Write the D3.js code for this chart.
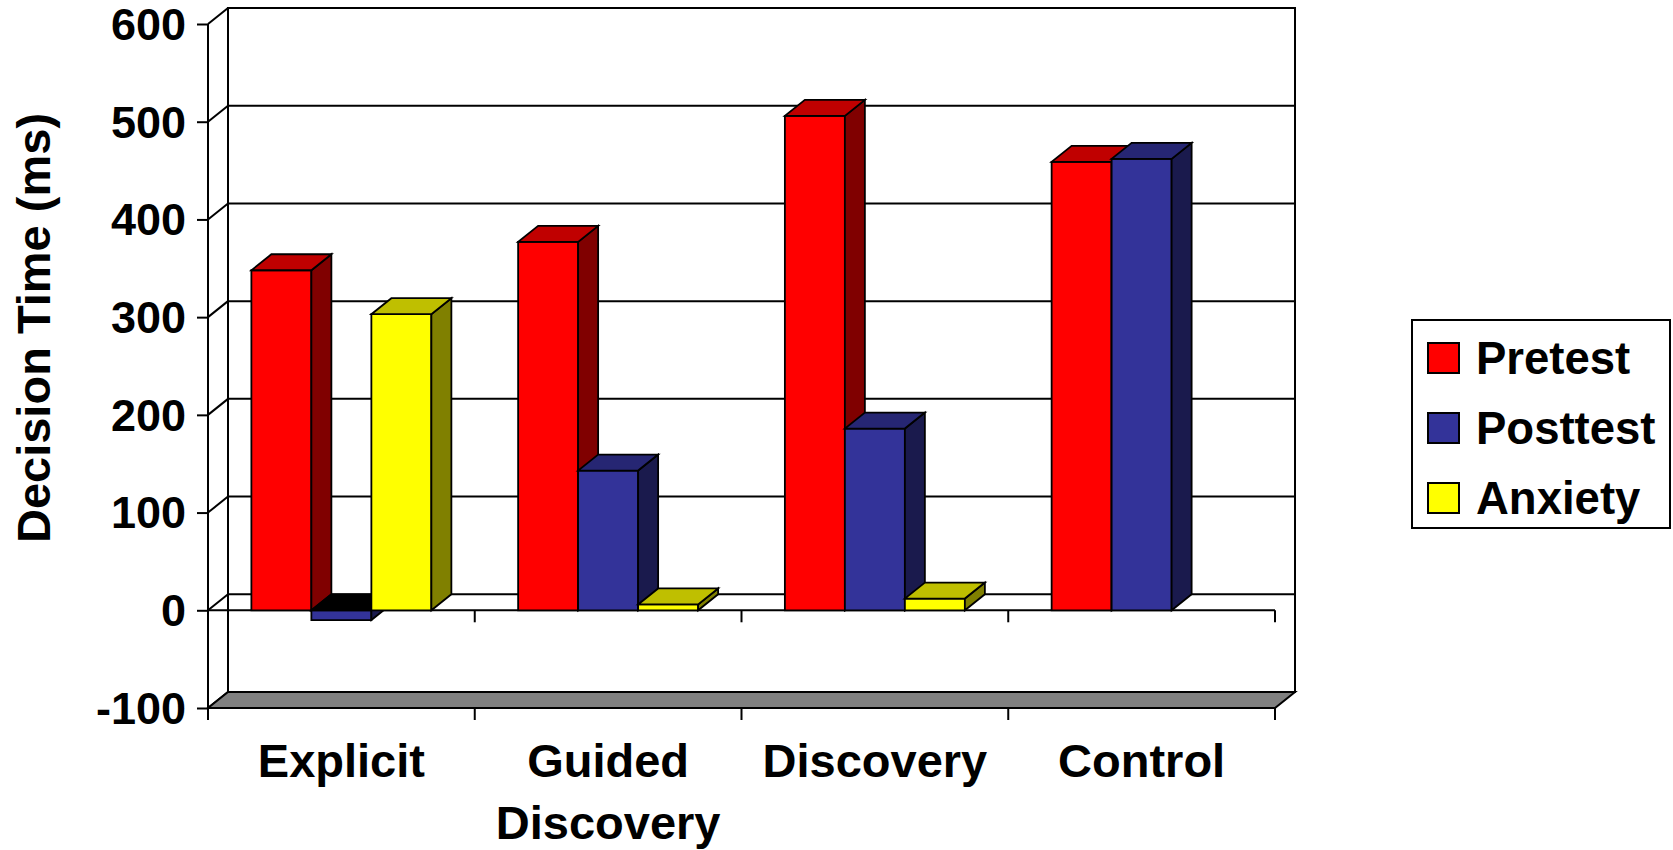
<!DOCTYPE html>
<html>
<head>
<meta charset="utf-8">
<script src="https://cdn.jsdelivr.net/npm/d3@7"></script>
<style>
  html, body { margin: 0; padding: 0; background: #ffffff; }
  svg { display: block; }
  text { font-family: "Liberation Sans", Arial, sans-serif; font-weight: bold; fill: #000; }
</style>
</head>
<body>
<script>
// Decision time by instruction condition
const categories = ["Explicit", "Guided Discovery", "Discovery", "Control"];
const seriesNames = ["Pretest", "Posttest", "Anxiety"];
const pretest  = [348, 377, 506, 459];
const posttest = [-10, 143, 186, 462];
const anxiety  = [303, 6, 12, null];
const yTickValues = [-100, 0, 100, 200, 300, 400, 500, 600];
const yTitle = "Decision Time (ms)";

const seriesValues = [pretest, posttest, anxiety];

// face colours per series: front, top, side
const faceColors = {
  Pretest:  { front: "#ff0000", top: "#c00000", side: "#800000" },
  Posttest: { front: "#333399", top: "#262673", side: "#1a1a4d" },
  Anxiety:  { front: "#ffff00", top: "#bfbf00", side: "#808000" }
};

const W = 1673, H = 850;
const depthX = 20, depthY = -16;   // 3-D depth offset of the plot box
const plotLeft = 208, plotRight = 1275;

const svg = d3.select("body").append("svg").attr("width", W).attr("height", H);

const y = d3.scaleLinear().domain([-100, 600]).range([708, 24]);
const x = d3.scaleBand().domain(categories).range([plotLeft, plotRight]).paddingInner(0).paddingOuter(0);
const xs = d3.scaleBand().domain(seriesNames).range([0, x.bandwidth()]).paddingInner(0).paddingOuter(0.723);

const stroke = "#000";
const line = (g, x1, y1, x2, y2, w) => g.append("line")
  .attr("x1", x1).attr("y1", y1).attr("x2", x2).attr("y2", y2)
  .attr("stroke", stroke).attr("stroke-width", w || 2);
const poly = (g, pts, fill, w) => g.append("polygon")
  .attr("points", pts.map(p => p.join(",")).join(" "))
  .attr("fill", fill).attr("stroke", stroke).attr("stroke-width", w || 1.8)
  .attr("stroke-linejoin", "miter");

// ---- walls ----
const walls = svg.append("g");
const yMin = y(-100), yMax = y(600);
walls.append("rect")
  .attr("x", plotLeft + depthX).attr("y", yMax + depthY)
  .attr("width", plotRight - plotLeft).attr("height", yMin - yMax)
  .attr("fill", "#fff").attr("stroke", stroke).attr("stroke-width", 2);

// gridlines on the back wall and the left side wall
yTickValues.forEach(v => {
  line(walls, plotLeft + depthX, y(v) + depthY, plotRight + depthX, y(v) + depthY, 2);
  line(walls, plotLeft, y(v), plotLeft + depthX, y(v) + depthY, 2);
});

// floor at the bottom of the value range
poly(walls, [
  [plotLeft, yMin], [plotRight, yMin],
  [plotRight + depthX, yMin + depthY], [plotLeft + depthX, yMin + depthY]
], "#808080", 2);

// front line of the zero plane
line(walls, plotLeft, y(0), plotRight, y(0), 2);

// ---- bars ----
const bars = svg.append("g");
categories.forEach((cat, ci) => {
  seriesNames.forEach((s, si) => {
    const v = seriesValues[si][ci];
    if (v === null || v === undefined) return;
    const c = faceColors[s];
    const x0 = x(cat) + xs(s), w = xs.bandwidth();
    const yTop = y(Math.max(v, 0)), yBot = y(Math.min(v, 0));
    // front
    poly(bars, [[x0, yTop], [x0 + w, yTop], [x0 + w, yBot], [x0, yBot]], c.front);
    // side
    poly(bars, [[x0 + w, yTop], [x0 + w + depthX, yTop + depthY],
                [x0 + w + depthX, yBot + depthY], [x0 + w, yBot]], c.side);
    // top (the zero cap of a negative bar is seen in shadow)
    poly(bars, [[x0, yTop], [x0 + w, yTop], [x0 + w + depthX, yTop + depthY],
                [x0 + depthX, yTop + depthY]], v < 0 ? "#000" : c.top);
  });
});

// ---- axes ----
const axisG = svg.append("g").attr("transform", `translate(${plotLeft},0)`);
axisG.call(d3.axisLeft(y).tickValues(yTickValues).tickFormat(d => String(d))
    .tickSize(11).tickSizeOuter(0).tickPadding(11))
  .call(g => g.select(".domain").remove());
axisG.selectAll(".tick line").attr("stroke", stroke).attr("stroke-width", 2);
axisG.selectAll(".tick text")
  .attr("font-size", 45).attr("font-family", "Liberation Sans, Arial, sans-serif")
  .attr("font-weight", "bold").attr("fill", "#000").attr("dy", "0.34em");

// front vertical axis line
line(svg, plotLeft, yMax, plotLeft, yMin + 12, 2);

// category boundary ticks at the zero line and below the floor
const bounds = categories.map(c => x(c)).concat([plotRight]);
bounds.forEach(bx => {
  line(svg, bx, y(0), bx, y(0) + 12, 2);
  line(svg, bx, yMin, bx, yMin + 12, 2);
});

// category labels
const labG = svg.append("g");
categories.forEach(cat => {
  const cx = x(cat) + x.bandwidth() / 2;
  const words = cat === "Guided Discovery" ? ["Guided", "Discovery"] : [cat];
  words.forEach((wd, i) => {
    labG.append("text").attr("x", cx).attr("y", 777 + i * 62)
      .attr("text-anchor", "middle").attr("font-size", 47).text(wd);
  });
});

// y-axis title
svg.append("text")
  .attr("transform", "translate(50,328) rotate(-90)")
  .attr("text-anchor", "middle").attr("font-size", 47).text(yTitle);

// ---- legend ----
const leg = svg.append("g");
leg.append("rect").attr("x", 1412).attr("y", 320).attr("width", 258).attr("height", 208)
  .attr("fill", "#fff").attr("stroke", stroke).attr("stroke-width", 2);
seriesNames.forEach((s, i) => {
  const cy = 358 + i * 70;
  leg.append("rect").attr("x", 1428).attr("y", cy - 15).attr("width", 31).attr("height", 30)
    .attr("fill", faceColors[s].front).attr("stroke", stroke).attr("stroke-width", 2);
  leg.append("text").attr("x", 1476).attr("y", cy + 16).attr("font-size", 45.5).text(s);
});
</script>
</body>
</html>
